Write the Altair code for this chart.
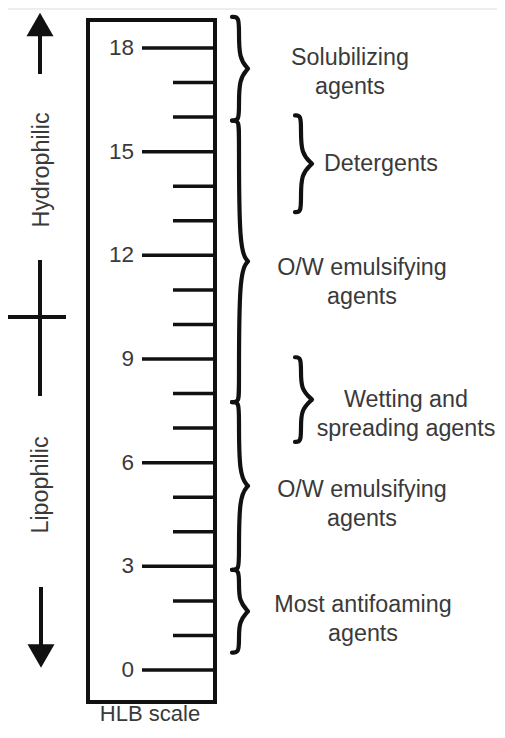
import altair as alt
import pandas as pd

# ---------------- data ----------------
hlb_values = list(range(0, 19))
major_values = [0, 3, 6, 9, 12, 15, 18]
tick_labels = ["0", "3", "6", "9", "12", "15", "18"]

brace_names = ["solubilizing", "ow_upper", "ow_lower", "antifoaming", "detergents", "wetting"]
brace_top = [18.9, 15.9, 7.75, 2.9, 16.05, 9.05]
brace_bottom = [15.9, 7.75, 2.9, 0.5, 13.25, 6.6]
brace_column = ["outer", "outer", "outer", "outer", "inner", "inner"]
brace_text = [
    ["Solubilizing", "agents"],
    ["O/W emulsifying", "agents"],
    ["O/W emulsifying", "agents"],
    ["Most antifoaming", "agents"],
    ["Detergents"],
    ["Wetting and", "spreading agents"],
]
side_labels = ["Hydrophilic", "Lipophilic"]
scale_title = "HLB scale"

# ---------------- layout ----------------
W, H = 489, 718
TOP_PAGE = 8.0           # page y of the chart's top edge
PX_PER_UNIT = 34.556
ZERO_PAGE_Y = 670.0


def V(page_y):
    return (ZERO_PAGE_Y - page_y) / PX_PER_UNIT


def X(page_x):
    return page_x - 8


y_hi = V(TOP_PAGE)
y_lo = V(TOP_PAGE + H)

FONT = "Liberation Sans"
FS = 23.3
FS_TICK = 22.5
FS_TITLE = 22
TXT = "#3a3a3a"
INK = "#111111"

xs = alt.Scale(domain=[0, W], nice=False, zero=False)
ys = alt.Scale(domain=[y_lo, y_hi], nice=False, zero=False)


def enc(x="x", y="y", **kw):
    return dict(x=alt.X(f"{x}:Q", scale=xs, axis=None),
                y=alt.Y(f"{y}:Q", scale=ys, axis=None), **kw)


# white panel (light grey frame shows at the top edge)
panel = alt.Chart(pd.DataFrame({"x": [X(8)], "x2": [X(502)], "y": [V(10)], "y2": [y_lo]})).mark_rect(
    fill="white"
).encode(**enc(), x2="x2:Q", y2="y2:Q")

# scale box
box = alt.Chart(pd.DataFrame({"x": [X(88)], "x2": [X(215)], "y": [V(20)], "y2": [V(702)]})).mark_rect(
    fillOpacity=0, stroke=INK, strokeWidth=4
).encode(**enc(), x2="x2:Q", y2="y2:Q")

# ticks
tick_df = pd.DataFrame({
    "y": hlb_values,
    "x": [X(142) if v in major_values else X(173) for v in hlb_values],
    "x2": [X(215)] * len(hlb_values),
})
ticks = alt.Chart(tick_df).mark_rule(color=INK, strokeWidth=3.5).encode(**enc(), x2="x2:Q")

lab_df = pd.DataFrame({"y": major_values, "t": tick_labels, "x": [X(134)] * len(major_values)})
tick_text = alt.Chart(lab_df).mark_text(
    align="right", baseline="middle", font=FONT, fontSize=FS_TICK, color=TXT
).encode(**enc(), text="t:N")

# braces
col_geom = {"outer": (X(232), X(239), X(248)), "inner": (X(295), X(301), X(312))}
d = 0.2
rows = []
for name, top, bot, col in zip(brace_names, brace_top, brace_bottom, brace_column):
    xe, xsp, xt = col_geom[col]
    mid = (top + bot) / 2
    pts = [(xe, top), (xsp, top), (xsp, top - 2 * d), (xsp, mid + 1.5 * d),
           (xt, mid), (xt, mid), (xt, mid), (xsp, mid - 1.5 * d),
           (xsp, bot + 2 * d), (xsp, bot), (xe, bot)]
    for i, (px, py) in enumerate(pts):
        rows.append({"b": name, "i": i, "x": px, "y": py})
braces = alt.Chart(pd.DataFrame(rows)).mark_line(
    interpolate="basis", color=INK, strokeWidth=4.2, strokeCap="round", strokeJoin="round"
).encode(**enc(), detail="b:N", order="i:Q")

# brace labels (centre x in page px, vertical nudge in px from brace midpoint)
label_x = [350, 362, 362, 363, 381, 406]
label_dy = [-11, 7, 4, -6, 0, 0]
bl_df = pd.DataFrame({
    "x": [X(v) for v in label_x],
    "y": [(t + b) / 2 - dy / PX_PER_UNIT for t, b, dy in zip(brace_top, brace_bottom, label_dy)],
    "t": brace_text,
})
brace_labels = alt.Chart(bl_df).mark_text(
    align="center", baseline="middle", font=FONT, fontSize=FS, color=TXT, lineHeight=29
).encode(**enc(), text="t")

# left decorations
shafts = alt.Chart(pd.DataFrame({
    "x": [X(40), X(41), X(40)],
    "y": [V(30), V(587), V(260)],
    "y2": [V(74), V(648), V(396)],
})).mark_rule(color=INK, strokeWidth=4).encode(**enc(), y2="y2:Q")

hbar = alt.Chart(pd.DataFrame({"x": [X(8)], "x2": [X(66)], "y": [V(317)]})).mark_rule(
    color=INK, strokeWidth=4).encode(**enc(), x2="x2:Q")

up_head = alt.Chart(pd.DataFrame({"x": [X(40)], "y": [V(24.5)]})).mark_point(
    shape="triangle-up", filled=True, size=729, color=INK, opacity=1).encode(**enc())
down_head = alt.Chart(pd.DataFrame({"x": [X(41)], "y": [V(656)]})).mark_point(
    shape="triangle-down", filled=True, size=729, color=INK, opacity=1).encode(**enc())

side = alt.Chart(pd.DataFrame({"x": [X(42), X(41)], "y": [V(170), V(485)], "t": side_labels})).mark_text(
    angle=270, align="center", baseline="middle", font=FONT, fontSize=FS, color=TXT
).encode(**enc(), text="t:N")

title = alt.Chart(pd.DataFrame({"x": [X(150)], "y": [V(714)], "t": [scale_title]})).mark_text(
    align="center", baseline="middle", font=FONT, fontSize=FS_TITLE, color=TXT
).encode(**enc(), text="t:N")

chart = alt.layer(
    panel, box, ticks, tick_text, braces, brace_labels, shafts, hbar, up_head, down_head, side, title
).properties(
    width=W, height=H, padding=0, autosize=alt.AutoSizeParams(type="none"), background="#eeeeee"
).configure_view(stroke=None)

chart.save("out.html", embed_options={"renderer": "svg", "actions": False})
